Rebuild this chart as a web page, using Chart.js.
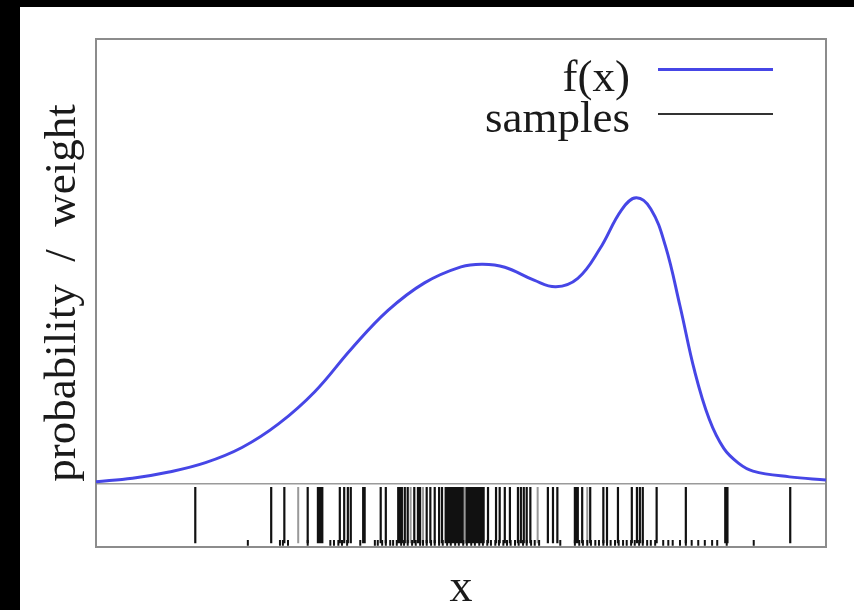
<!DOCTYPE html>
<html>
<head>
<meta charset="utf-8">
<script src="https://cdn.jsdelivr.net/npm/chart.js@4/dist/chart.umd.min.js"></script>
<style>
    body { margin: 0; background: #000; width: 854px; height: 610px; overflow: hidden; }
    #wrap { position: absolute; left: 20px; top: 7px; width: 834px; height: 603px; background: #fff; }
    #chart { position: absolute; left: 0; top: 0; }
    .leg { position: absolute; font-family: "Liberation Serif", serif; font-size: 45px; color: #1a1a1a; line-height: 1; }
    .legLine { position: absolute; }
</style>
</head>
<body>
<div id="wrap">
    <canvas id="chart" width="834" height="603"></canvas>
    <div class="leg" style="right:224px; top:47px;">f(x)</div>
    <div class="legLine" style="left:638px; top:61px; width:115px; height:3px; background:#4646e6;"></div>
    <div class="leg" style="right:224px; top:88px;">samples</div>
    <div class="legLine" style="left:638px; top:106px; width:115px; height:1.5px; background:#333;"></div>
</div>
<script>
// curve f(x)
var curveX = [0, 0.5, 1.0, 1.5, 2.0, 2.5, 3.0, 3.5, 4.0, 4.5, 5.0, 5.3, 5.6, 6.0, 6.3, 6.6, 6.9, 7.2, 7.4, 7.6, 7.8, 8.0, 8.2, 8.4, 8.6, 8.8, 9.0, 9.5, 10];
var curveY = [0.005, 0.013, 0.027, 0.048, 0.082, 0.135, 0.208, 0.304, 0.390, 0.452, 0.488, 0.494, 0.487, 0.458, 0.443, 0.462, 0.528, 0.616, 0.643, 0.618, 0.535, 0.400, 0.254, 0.146, 0.080, 0.047, 0.029, 0.016, 0.009];

// tall sample marks (black and lighter gray)
var samplesDark = [1.36, 2.40, 2.58, 2.90, 3.04, 3.07, 3.10, 3.34, 3.40, 3.45, 3.49, 3.66, 3.68, 3.90, 3.97,
    4.14, 4.16, 4.19, 4.23, 4.27, 4.36, 4.41, 4.44, 4.53, 4.58, 4.64, 4.70, 4.74, 4.79, 4.82, 4.85, 4.88,
    4.90, 4.92, 4.95, 4.97, 4.99, 5.00, 5.01, 5.03, 5.06, 5.08, 5.10, 5.12, 5.14, 5.16, 5.18, 5.21, 5.23,
    5.26, 5.27, 5.29, 5.31, 5.37, 5.48, 5.53, 5.60, 5.67, 5.78, 5.82, 5.86, 5.90, 5.95, 6.19, 6.26, 6.32,
    6.56, 6.58, 6.60, 6.66, 6.77, 6.95, 7.00, 7.15, 7.34, 7.41, 7.45, 7.49, 7.68, 8.08, 8.62, 8.65, 9.51];
var samplesLight = [2.77, 4.31, 4.48, 5.05, 6.05, 6.73];

// short marks along the bottom edge
var smallMarks = [2.08, 2.52, 2.56, 2.63, 2.90, 3.21, 3.26, 3.32, 3.37, 3.44, 3.62, 3.82, 3.86, 3.92,
    3.97, 4.03, 4.07, 4.12, 4.18, 4.22, 4.27, 4.33, 4.38, 4.44, 4.48, 4.53, 4.59, 4.64, 4.70, 4.75,
    4.81, 4.86, 4.92, 4.97, 5.03, 5.08, 5.14, 5.19, 5.25, 5.30, 5.36, 5.41, 5.47, 5.52, 5.58, 5.63,
    5.68, 5.74, 5.79, 5.85, 5.90, 5.96, 6.01, 6.07, 6.36, 6.56, 6.62, 6.67, 6.73, 6.78, 6.84, 6.89,
    6.95, 7.00, 7.05, 7.11, 7.16, 7.22, 7.27, 7.33, 7.38, 7.44, 7.49, 7.55, 7.60, 7.66, 7.77, 7.84,
    7.90, 8.00, 8.08, 8.16, 8.25, 8.34, 8.44, 8.51, 8.64, 9.01];

var yMin = -0.1416;
var yMax = 1.0;

// turn positions into vertical segments separated by gaps
function rug(xs, top, bottom) {
    var pts = [];
    for (var i = 0; i < xs.length; i++) {
        pts.push({x: xs[i], y: top});
        pts.push({x: xs[i], y: bottom});
        pts.push({x: xs[i], y: null});
    }
    return pts;
}

var curve = curveX.map(function(x, i) { return {x: x, y: curveY[i]}; });
var frameColor = '#8c8c8c';
var serif = "'Liberation Serif', 'Times New Roman', serif";

new Chart(document.getElementById('chart'), {
    type: 'line',
    data: {
        datasets: [
            {
                label: 'samples small',
                data: rug(smallMarks, -0.126, -0.139),
                borderColor: '#111',
                borderWidth: 2,
                pointRadius: 0,
                spanGaps: false,
                tension: 0
            },
            {
                label: 'samples light',
                data: rug(samplesLight, -0.0067, -0.133),
                borderColor: '#999',
                borderWidth: 2,
                pointRadius: 0,
                spanGaps: false,
                tension: 0
            },
            {
                label: 'samples',
                data: rug(samplesDark, -0.0067, -0.133),
                borderColor: '#111',
                borderWidth: 2.2,
                pointRadius: 0,
                spanGaps: false,
                tension: 0
            },
            {
                label: 'f(x)',
                data: curve,
                borderColor: '#4646e6',
                borderWidth: 3,
                pointRadius: 0,
                tension: 0.4
            }
        ]
    },
    options: {
        responsive: false,
        animation: false,
        layout: { padding: 0 },
        plugins: { legend: { display: false }, tooltip: { enabled: false } },
        scales: {
            x: {
                type: 'linear', position: 'bottom', min: 0, max: 10,
                ticks: { display: false },
                grid: { display: false },
                border: { color: frameColor, width: 2 },
                title: { display: true, text: 'x', color: '#1a1a1a',
                    font: { family: serif, size: 46, lineHeight: 0.85 }, padding: { top: 0, bottom: 2 } },
                afterFit: function(s) { s.height = 63; }
            },
            x2: {
                type: 'linear', position: 'top', min: 0, max: 10,
                ticks: { display: false },
                grid: { display: false },
                border: { color: frameColor, width: 2 },
                afterFit: function(s) { s.height = 32; }
            },
            y: {
                type: 'linear', position: 'left', min: yMin, max: yMax,
                ticks: { display: false },
                afterBuildTicks: function(s) { s.ticks = [{value: 0}]; },
                grid: { color: '#9a9a9a', lineWidth: 1.5, drawTicks: false },
                border: { color: frameColor, width: 2 },
                title: { display: true, text: 'probability  /  weight', color: '#1a1a1a',
                    font: { family: serif, size: 45, lineHeight: 1.2 }, padding: { top: 16, bottom: 0 } },
                afterFit: function(s) { s.width = 76; }
            },
            y2: {
                type: 'linear', position: 'right', min: yMin, max: yMax,
                ticks: { display: false },
                grid: { display: false },
                border: { color: frameColor, width: 2 },
                afterFit: function(s) { s.width = 28; }
            }
        }
    }
});
</script>
</body>
</html>
